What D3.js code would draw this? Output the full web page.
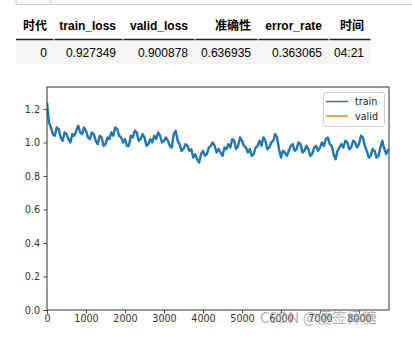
<!DOCTYPE html>
<html><head><meta charset="utf-8">
<script src="https://cdn.jsdelivr.net/npm/d3@7"></script>
<style>body{margin:0;background:#fff;}svg{display:block;}</style>
</head><body>
<svg id="c" width="412" height="337"></svg>
<script>
const headers = ["时代","train_loss","valid_loss","准确性","error_rate","时间"];
const row = ["0","0.927349","0.900878","0.636935","0.363065","04:21"];
const colEdges = [16,54,123,195,258,329,371];

const iterStep = 50;
const trainLoss = [
 1.24,1.12,1.09,1.05,1.04,1.09,1.08,1.03,1.01,1.06,
 1.05,1.02,1.00,1.05,1.04,1.07,1.10,1.06,1.05,1.09,
 1.07,1.03,1.02,1.06,1.05,1.01,0.99,1.04,1.03,0.98,
 0.99,1.03,1.02,1.06,1.04,1.09,1.08,1.04,1.03,1.00,
 1.02,0.98,0.98,1.04,1.03,1.07,1.06,1.01,1.02,1.05,
 1.03,0.98,0.99,1.02,1.00,1.04,1.02,1.06,1.04,1.00,
 1.01,1.03,1.01,0.98,0.97,1.05,1.07,1.01,0.99,0.95,
 0.96,0.99,0.98,0.95,0.96,0.91,0.93,0.90,0.88,0.93,
 0.95,0.92,0.93,0.97,0.98,1.00,0.98,0.94,0.96,0.94,
 0.92,0.97,0.96,0.99,0.97,1.02,1.01,0.96,0.98,1.03,
 1.01,0.98,0.97,0.94,0.96,0.92,0.93,0.97,0.98,1.01,
 0.98,1.03,1.01,0.96,0.97,1.00,1.01,1.05,1.03,0.96,
 0.91,0.95,0.94,0.92,0.95,0.98,0.99,0.95,0.96,1.00,
 0.99,0.94,0.95,0.98,0.96,0.92,0.93,0.97,0.98,0.95,
 0.97,1.00,0.98,1.02,1.03,0.99,0.98,0.93,0.90,0.95,
 0.97,0.99,0.97,1.01,1.00,0.96,0.97,1.01,1.00,0.97,
 0.99,1.04,1.03,0.98,0.95,0.91,0.92,0.96,0.95,0.91,
 0.92,0.97,1.01,0.96,0.93,0.96];
const validLoss = [0.900878];
const validIter = [8770];
const xTicks = [0,1000,2000,3000,4000,5000,6000,7000,8000];
const yTicks = [0,0.2,0.4,0.6,0.8,1.0,1.2];
const legendLabels = ["train","valid"];
const colors = ["#1f77b4","#ff7f0e"];

const svg = d3.select("#c");

// notebook cell remnant at top
svg.append("rect").attr("x",16).attr("y",-2).attr("width",410).attr("height",6.5)
  .attr("fill","#f7f7f7").attr("stroke","#cfcfcf").attr("stroke-width",1);
svg.append("line").attr("x1",50.5).attr("x2",50.5).attr("y1",0).attr("y2",4.5).attr("stroke","#dcdcdc");

// table
const tf = "'Liberation Sans', Arial, 'Noto Sans CJK SC', sans-serif";
svg.append("rect").attr("x",16).attr("y",40).attr("width",355).attr("height",24).attr("fill","#f5f5f5");
headers.forEach((h,i)=>{
  svg.append("text").attr("x",colEdges[i+1]-7).attr("y",29.5).attr("text-anchor","end")
    .attr("font-family",tf).attr("font-weight","bold").attr("font-size",12).attr("fill","#000").text(h);
  svg.append("text").attr("x",colEdges[i+1]-7).attr("y",56.5).attr("text-anchor","end")
    .attr("font-family",tf).attr("font-size",12).attr("fill","#000").text(row[i]);
  svg.append("line").attr("x1",colEdges[i]+(i?0.5:0)).attr("x2",colEdges[i+1]-0.5).attr("y1",39.5).attr("y2",39.5)
    .attr("stroke","#222").attr("stroke-width",1.6);
});

// chart
const L=47,R=389,T=87,B=310;
const x = d3.scaleLinear().domain([0,8770]).range([L,R]);
const y = d3.scaleLinear().domain([0,1.331]).range([B,T]);
const af = "'DejaVu Sans', sans-serif";

svg.append("defs").append("clipPath").attr("id","clip").append("rect")
  .attr("x",L).attr("y",T).attr("width",R-L).attr("height",B-T);

const line = d3.line().x(d=>x(d[0])).y(d=>y(d[1]));
const pts = trainLoss.map((v,i)=>[i*iterStep,v]);
svg.append("path").datum(pts).attr("d",line).attr("fill","none")
  .attr("stroke",colors[0]).attr("stroke-width",2.4).attr("stroke-linejoin","round")
  .attr("clip-path","url(#clip)");
svg.append("path").datum(validIter.map((t,i)=>[t,validLoss[i]])).attr("d",line).attr("fill","none")
  .attr("stroke",colors[1]).attr("stroke-width",1.5).attr("clip-path","url(#clip)");

const xAxis = svg.append("g").attr("transform",`translate(0,${B})`)
  .call(d3.axisBottom(x).tickValues(xTicks).tickSize(3.5).tickPadding(2).tickFormat(d3.format("d")));
const yAxis = svg.append("g").attr("transform",`translate(${L},0)`)
  .call(d3.axisLeft(y).tickValues(yTicks).tickSize(3.5).tickPadding(3.5).tickFormat(d3.format(".1f")));
[xAxis,yAxis].forEach(g=>{
  g.select(".domain").remove();
  g.selectAll("line").attr("stroke","#333").attr("stroke-width",0.9);
  g.selectAll("text").attr("font-family",af).attr("font-size",9.6).attr("fill","#333");
});
svg.append("rect").attr("x",L).attr("y",T).attr("width",R-L).attr("height",B-T)
  .attr("fill","none").attr("stroke","#333").attr("stroke-width",1);

// legend
const lg = svg.append("g");
lg.append("rect").attr("x",323.5).attr("y",92.5).attr("width",61).attr("height",34).attr("rx",2.5)
  .attr("fill","#fff").attr("fill-opacity",0.8).attr("stroke","#d0d0d0");
legendLabels.forEach((t,i)=>{
  const yy = 101.5 + i*14.5;
  lg.append("line").attr("x1",326).attr("x2",348).attr("y1",yy).attr("y2",yy)
    .attr("stroke",colors[i]).attr("stroke-width",1.5);
  lg.append("text").attr("x",355).attr("y",yy+3.5).attr("font-family",af).attr("font-size",9.6)
    .attr("fill","#222").text(t);
});

// watermark
svg.append("text").attr("x",260).attr("y",323).attr("font-family","'Noto Sans CJK SC', sans-serif")
  .attr("font-size",15).attr("fill","#999").attr("fill-opacity",0.75).text("CSDN @便签棒糖");
</script>
</body></html>
